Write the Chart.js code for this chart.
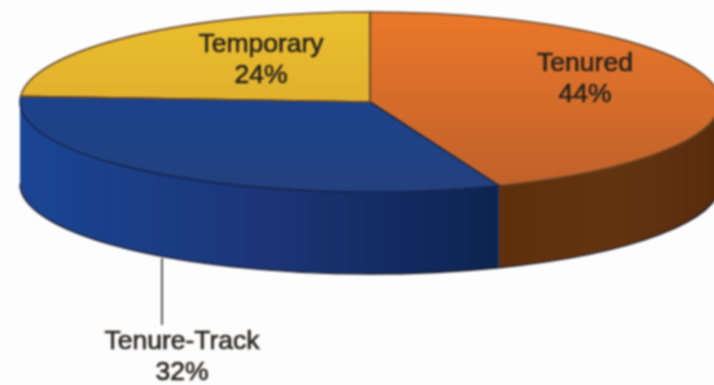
<!DOCTYPE html>
<html>
<head>
<meta charset="utf-8">
<script src="https://cdn.jsdelivr.net/npm/chart.js@4"></script>
<style>
  html, body { margin: 0; padding: 0; background: #fdfdfe; overflow: hidden; }
  canvas { display: block; filter: blur(0.9px); }
</style>
</head>
<body>
<canvas id="pieChart" width="722" height="391"></canvas>
<script>
// dados
const categories = ['Tenured', 'Tenure-Track', 'Temporary'];
const shares = [44, 32, 24];

const topColors = [['#ea782a', '#bf602a'], ['#134496', '#24417f'], ['#ecbf2e', '#d6a22c']];
const sideColors = [['#5f2f0c', '#643410', '#592c0c'], ['#1a4594', '#1c3678', '#0d2350'], ['#8a6a10', '#8a6a10', '#8a6a10']];

const RX = 350;      // raio horizontal
const RY = 90;       // raio vertical da elipse
const DEPTH = 82;    // altura da lateral
const SQUASH = RY / RX;

// posicao dos textos
const labelSpots = [[585, 64], [182, 342], [261, 45]];
const LINE_GAP = 31;
const leader = { x: 162, from: 258, to: 325 };

function topGradient(context) {
  const chart = context.chart;
  const area = chart.chartArea;
  if (!area) return topColors[context.dataIndex][0];
  const cy = (area.top + area.bottom) / 2;
  const g = chart.ctx.createLinearGradient(0, cy - RX, 0, cy + RX);
  g.addColorStop(0, topColors[context.dataIndex][0]);
  g.addColorStop(1, topColors[context.dataIndex][1]);
  return g;
}

const pie3d = {
  id: 'pie3d',
  beforeDatasetsDraw(chart) {
    const ctx = chart.ctx;
    const arcs = chart.getDatasetMeta(0).data;
    const cx = arcs[0].x, cy = arcs[0].y;

    // lateral
    arcs.forEach((arc, i) => {
      const a0 = Math.max(arc.startAngle, 0);
      const a1 = Math.min(arc.endAngle, Math.PI);
      if (a1 <= a0) return;
      const xa = cx + RX * Math.cos(a1);
      const xb = cx + RX * Math.cos(a0);
      const g = ctx.createLinearGradient(xa, 0, xb, 0);
      g.addColorStop(0, sideColors[i][0]);
      g.addColorStop(0.5, sideColors[i][1]);
      g.addColorStop(1, sideColors[i][2]);
      ctx.beginPath();
      ctx.ellipse(cx, cy, RX, RY, 0, a0, a1);
      ctx.ellipse(cx, cy + DEPTH, RX, RY, 0, a1, a0, true);
      ctx.closePath();
      ctx.fillStyle = g;
      ctx.fill();

      // borda de baixo mais escura
      ctx.strokeStyle = '#1c1a28';
      ctx.lineWidth = 1.4;
      ctx.beginPath();
      ctx.ellipse(cx, cy + DEPTH, RX, RY, 0, a0, a1);
      ctx.stroke();
    });

    ctx.save();
    ctx.translate(0, cy);
    ctx.scale(1, SQUASH);
    ctx.translate(0, -cy);
  },
  afterDatasetsDraw(chart) {
    const ctx = chart.ctx;
    ctx.restore();
    const arcs = chart.getDatasetMeta(0).data;
    const cx = arcs[0].x, cy = arcs[0].y;

    // contorno das fatias
    ctx.lineWidth = 1.6;
    arcs.forEach((arc, i) => {
      ctx.strokeStyle = i === 1 ? '#14264f' : '#6b4a2a';
      ctx.beginPath();
      ctx.moveTo(cx, cy);
      ctx.ellipse(cx, cy, RX, RY, 0, arc.startAngle, arc.endAngle);
      ctx.closePath();
      ctx.stroke();
    });

    // linha ate o rotulo
    ctx.strokeStyle = '#5a5a5c';
    ctx.lineWidth = 2;
    ctx.beginPath();
    ctx.moveTo(leader.x, leader.from);
    ctx.lineTo(leader.x, leader.to);
    ctx.stroke();

    // rotulos
    ctx.fillStyle = '#26221c';
    ctx.strokeStyle = '#26221c';
    ctx.lineWidth = 0.6;
    ctx.font = '26.5px "Liberation Sans", Arial, sans-serif';
    ctx.textAlign = 'center';
    ctx.textBaseline = 'middle';
    categories.forEach((name, i) => {
      const [x, y] = labelSpots[i];
      ctx.fillText(name, x, y);
      ctx.strokeText(name, x, y);
      ctx.fillText(shares[i] + '%', x, y + LINE_GAP);
      ctx.strokeText(shares[i] + '%', x, y + LINE_GAP);
    });
  }
};

new Chart(document.getElementById('pieChart'), {
  type: 'pie',
  data: {
    labels: categories,
    datasets: [{
      data: shares,
      backgroundColor: topGradient,
      borderWidth: 0,
      radius: RX,
      clip: false
    }]
  },
  options: {
    responsive: false,
    animation: false,
    layout: { padding: { left: 18, bottom: 187 } },
    plugins: { legend: { display: false }, tooltip: { enabled: false } }
  },
  plugins: [pie3d]
});
</script>
</body>
</html>
